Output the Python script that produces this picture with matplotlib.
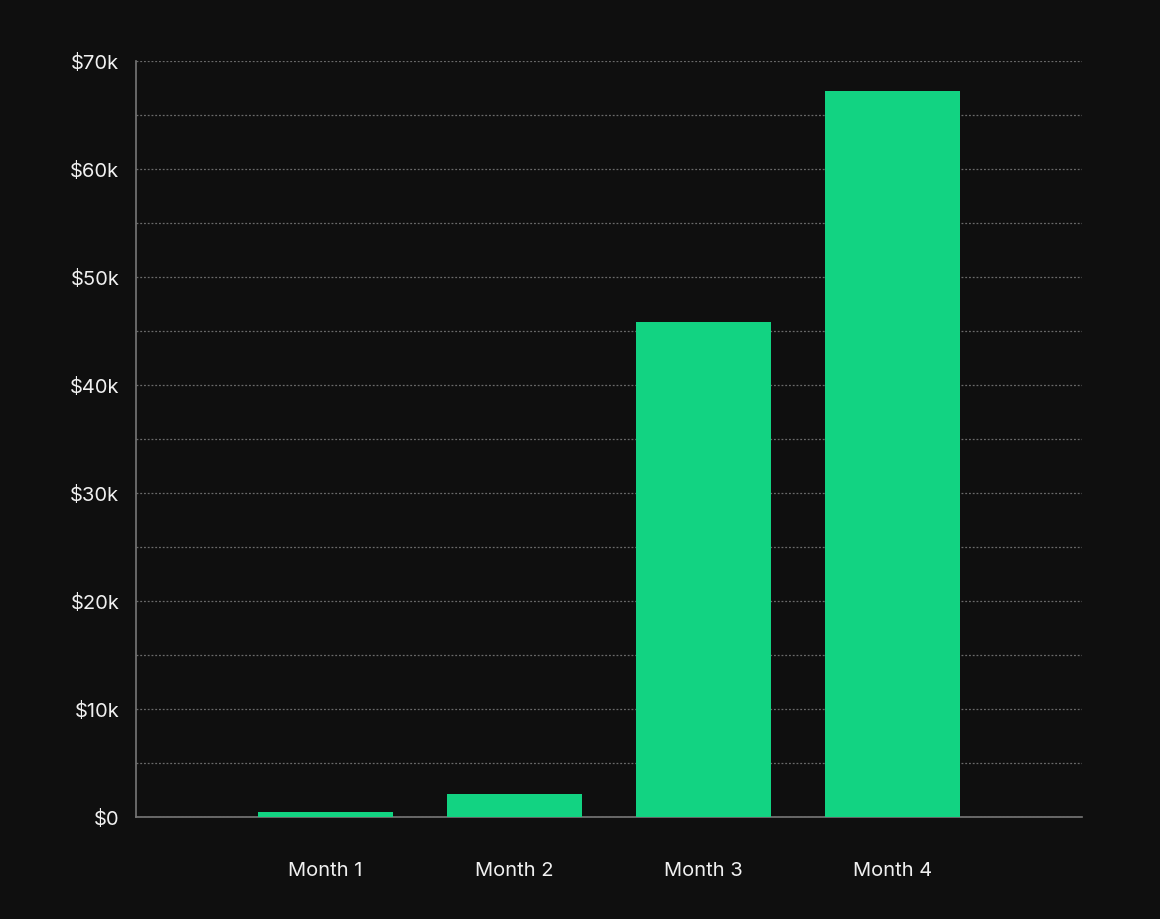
import matplotlib
matplotlib.use("Agg")
import matplotlib.pyplot as plt
from matplotlib.ticker import MultipleLocator, FuncFormatter

categories = ["Month 1", "Month 2", "Month 3", "Month 4"]
values = [460, 2130, 45800, 67200]

plt.rcParams['font.family'] = ['Inter', 'DejaVu Sans']
bg = "#0f0f0f"
fig = plt.figure(figsize=(11.6, 9.2), dpi=100, facecolor=bg)
ax = fig.add_axes([136/1160, 1-818/920, (1082-136)/1160, (818-62)/920], facecolor=bg)

x = list(range(1, len(categories)+1))
ax.bar(x, values, width=0.714, color="#12d382", zorder=3)
ax.set_xlim(0, 5)
ax.set_ylim(0, 70000)
ax.set_xticks(x)
ax.set_xticklabels(categories)
ax.yaxis.set_major_locator(MultipleLocator(10000))
ax.yaxis.set_minor_locator(MultipleLocator(5000))
ax.yaxis.set_major_formatter(FuncFormatter(lambda v, p: "$0" if v == 0 else f"${int(v/1000)}k"))
ax.grid(axis='y', which='both', color="#6a6a6a", linestyle=(0, (1.5, 1.5)), linewidth=0.9, zorder=0)
for s in ["top", "right"]:
    ax.spines[s].set_visible(False)
for s in ["left", "bottom"]:
    ax.spines[s].set_color("#777777")
    ax.spines[s].set_linewidth(1.2)
ax.tick_params(axis='both', which='both', length=0, colors="#f0f0f0", labelsize=14.5)
ax.tick_params(axis='x', pad=32)
ax.tick_params(axis='y', pad=12)
fig.savefig("out.png", facecolor=bg)
